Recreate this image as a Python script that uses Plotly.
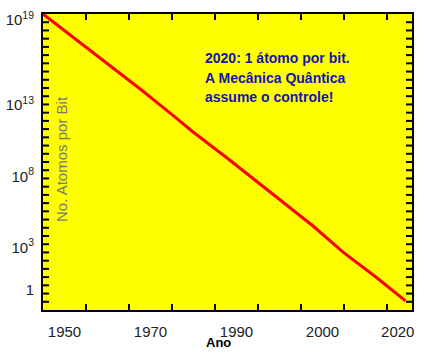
import numpy as np
import plotly.graph_objects as go

# Data (years vs atoms per bit, log scale)
years = [1945.0, 1952.0, 1959.9, 1967.6, 1974.5, 1979.9, 1987.8, 1995.5,
         2002.4, 2007.8, 2014.7, 2022.4, 2029.3]
log_atoms = [19.40, 17.78, 15.89, 14.13, 12.45, 11.11, 9.29, 7.46,
             5.85, 4.51, 2.69, 0.93, -0.75]
atoms = [10 ** v for v in log_atoms]

# Tick labels as printed on the chart
xtick_pos = [1950, 1970, 1990, 2010, 2027.5]
xtick_text = ["1950", "1970", "1990", "2000", "2020"]
ytick_vals = [1e19, 1e13, 1e8, 1e3, 1]
ytick_text = ["10<sup>19</sup>", "10<sup>13</sup>", "10<sup>8</sup>", "10<sup>3</sup>", "1"]

x_range = [1945, 1945 + 369 / 4.3]
y_range = [-1.39, 19.40]

# tick-mark positions
x_minor = [float(v) for v in np.arange(1955, 2030, 10)]
y_minor_log = [float(v) for v in np.linspace(y_range[1], y_range[0], 37)[1:-1]]

font_family = "Liberation Sans, Arial, sans-serif"
PW, PH = 369, 296  # plot area in px
TL = 6  # tick length px
dx = TL * (x_range[1] - x_range[0]) / PW      # tick length in years
dy = TL * (y_range[1] - y_range[0]) / PH      # tick length in decades

fig = go.Figure()

# tick marks drawn as thin line segments (inside, on all four sides)
tx, ty = [], []
for xv in x_minor:
    tx += [xv, xv, None, xv, xv, None]
    ty += [10 ** y_range[0], 10 ** (y_range[0] + dy), None,
           10 ** (y_range[1] - dy), 10 ** y_range[1], None]
for lv in y_minor_log:
    tx += [x_range[0], x_range[0] + dx, None, x_range[1] - dx, x_range[1], None]
    ty += [10 ** lv, 10 ** lv, None, 10 ** lv, 10 ** lv, None]
fig.add_trace(go.Scatter(x=tx, y=ty, mode="lines", connectgaps=False,
                         line=dict(color="black", width=2),
                         hoverinfo="skip", showlegend=False))

fig.add_trace(go.Scatter(x=years, y=atoms, mode="lines",
                         line=dict(color="#ff0000", width=3),
                         hoverinfo="skip", showlegend=False))

fig.update_layout(
    template="none",
    width=428, height=354,
    margin=dict(l=43, r=16, t=14, b=44, pad=0),
    paper_bgcolor="white", plot_bgcolor="#ffff00",
    font=dict(family=font_family, color="#222"),
    xaxis=dict(range=x_range, showgrid=False, zeroline=False,
               tickmode="array", tickvals=xtick_pos, ticktext=xtick_text,
               ticks="", ticklabelstandoff=7, tickfont=dict(size=15, color="#222"),
               showline=True, linecolor="black", linewidth=2, mirror=True),
    yaxis=dict(type="log", range=y_range, showgrid=False, zeroline=False,
               tickmode="array", tickvals=ytick_vals, ticktext=ytick_text,
               ticks="", ticklabelstandoff=4, tickfont=dict(size=15, color="#222"),
               showline=True, linecolor="black", linewidth=2, mirror=True),
)

fig.add_annotation(text="No. Atomos por Bit", xref="paper", yref="paper",
                   x=(61 - 43) / PW, y=(310 - 159) / PH, textangle=-90,
                   xanchor="center", yanchor="middle", showarrow=False,
                   font=dict(size=15, color="#787878", family=font_family))
fig.add_annotation(text="<b>Ano</b>", xref="paper", yref="paper",
                   x=(218 - 43) / PW, y=-(342 - 310) / PH,
                   xanchor="center", yanchor="middle", showarrow=False,
                   font=dict(size=13, color="black", family=font_family))

lines = ["2020: 1 átomo por bit.", "A Mecânica Quântica", "assume o controle!"]
line_y = [58, 78, 97]
for t, py in zip(lines, line_y):
    fig.add_annotation(text="<b>" + t + "</b>", xref="paper", yref="paper",
                       x=(203 - 43) / PW, y=(310 - py) / PH,
                       xanchor="left", yanchor="middle", showarrow=False,
                       font=dict(size=14, color="#1414b4", family=font_family))

fig.write_html("out.html")
